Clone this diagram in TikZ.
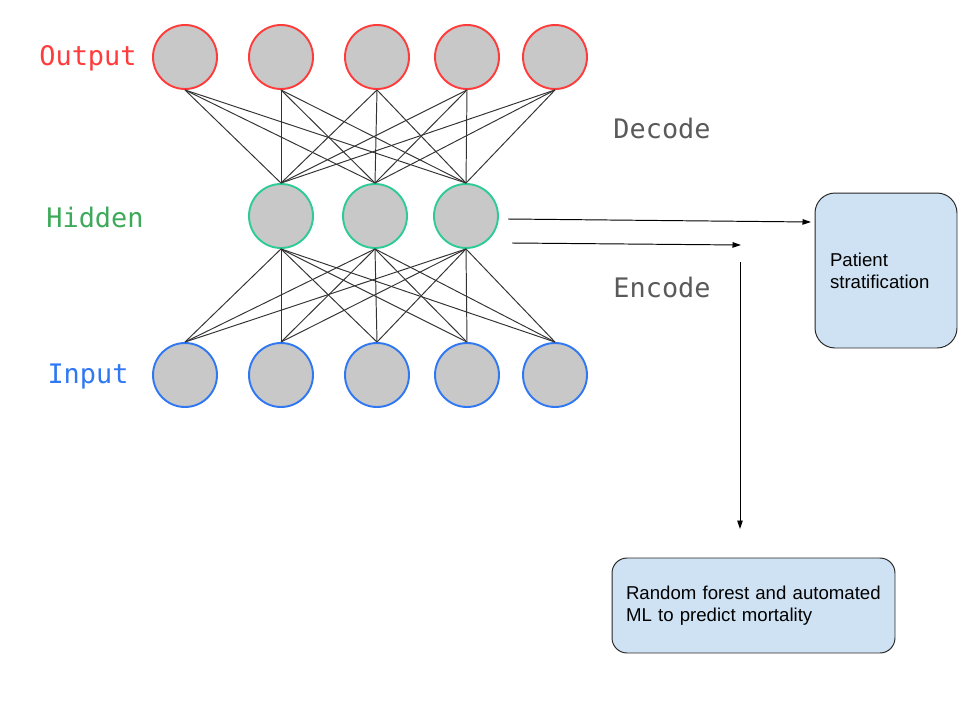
\documentclass[tikz,border=0pt]{standalone}
\usepackage{fontspec}
\setmainfont{Liberation Sans}
\newfontfamily\netfont{DejaVu Sans Mono}
\usetikzlibrary{arrows.meta}
\definecolor{outred}{HTML}{FF3B3B}
\definecolor{hidgreen}{HTML}{2FCB96}
\definecolor{hidtext}{HTML}{3DAA5A}
\definecolor{inblue}{HTML}{2F78F2}
\definecolor{nodegray}{HTML}{C8C8C8}
\definecolor{wiregray}{HTML}{333333}
\definecolor{codegray}{HTML}{5A5A5A}
\definecolor{boxblue}{HTML}{CFE2F3}
\tikzset{
  neuron/.style={circle, minimum size=1.28cm, inner sep=0pt, fill=nodegray, line width=1.1pt},
  layername/.style={anchor=base, font=\netfont\fontsize{15.3}{18}\selectfont},
  weight/.style={draw=wiregray, line width=0.55pt},
  flow/.style={-{Triangle[length=0.17cm,width=0.11cm]}, line width=0.55pt},
  resultbox/.style={draw=black!85, fill=boxblue, line width=0.55pt, align=left,
    font=\fontsize{10.6}{12.5}\selectfont, inner xsep=0pt}
}
\begin{document}
\begin{tikzpicture}[x=0.02cm, y=-0.02cm]
\useasboundingbox (0,0) rectangle (960,720);
% layers
\node[neuron, draw=outred] (out1) at (185,57) {}; \node[neuron, draw=outred] (out2) at (281,57) {};
\node[neuron, draw=outred] (out3) at (377,57) {}; \node[neuron, draw=outred] (out4) at (467,57) {};
\node[neuron, draw=outred] (out5) at (555,57) {};
\node[neuron, draw=hidgreen] (hid1) at (281,216) {}; \node[neuron, draw=hidgreen] (hid2) at (375,216) {};
\node[neuron, draw=hidgreen] (hid3) at (466,216) {};
\node[neuron, draw=inblue] (in1) at (185,375) {}; \node[neuron, draw=inblue] (in2) at (281,375) {};
\node[neuron, draw=inblue] (in3) at (377,375) {}; \node[neuron, draw=inblue] (in4) at (467,375) {};
\node[neuron, draw=inblue] (in5) at (555,375) {};
\foreach \i in {1,...,5} \foreach \j in {1,2,3} \draw[weight] (out\i.south) -- (hid\j.north);
\foreach \j in {1,2,3} \foreach \k in {1,...,5} \draw[weight] (hid\j.south) -- (in\k.north);
% labels
\node[layername, text=outred] (lout) at (88,65) {Output};
\node[layername, text=hidtext] (lhid) at (95,227) {Hidden};
\node[layername, text=inblue] (lin) at (88,383) {Input};
\node[layername, text=codegray] (ldec) at (662,138) {Decode};
\node[layername, text=codegray] (lenc) at (662,297) {Encode};
% outcomes
\node[resultbox, rounded corners=0.4cm, minimum width=2.84cm, minimum height=3.1cm, text width=2.24cm] (strat) at (886,270.5) {Patient\\stratification};
\node[resultbox, rounded corners=0.3cm, minimum width=5.66cm, minimum height=1.9cm, text width=5.1cm] (mort) at (753.5,605.5) {Random forest and automated\\ML to predict mortality};
\coordinate (a1s) at (508,219); \coordinate (a1e) at (811,222);
\coordinate (a2s) at (512,243); \coordinate (a2e) at (741,245);
\coordinate (a3s) at (740,262); \coordinate (a3e) at (740,529);
\draw[flow] (a1s) -- (a1e);
\draw[flow] (a2s) -- (a2e);
\draw[flow] (a3s) -- (a3e);
\end{tikzpicture}
\end{document}
